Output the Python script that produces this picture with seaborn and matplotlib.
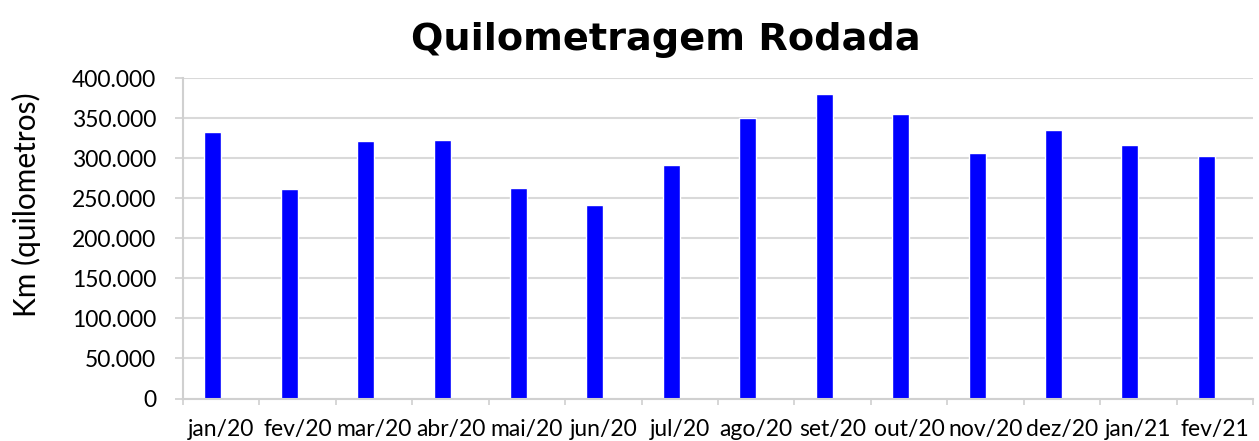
import matplotlib
matplotlib.use("Agg")
import matplotlib.pyplot as plt
from matplotlib.ticker import FuncFormatter, FixedLocator
import seaborn as sns
import pandas as pd

# ---- data ----
meses = ["jan/20", "fev/20", "mar/20", "abr/20", "mai/20", "jun/20", "jul/20",
         "ago/20", "set/20", "out/20", "nov/20", "dez/20", "jan/21", "fev/21"]
km = [333100, 261200, 321100, 322700, 262400, 240900, 291100,
      350600, 380100, 355600, 307000, 335300, 316100, 302400]
serie = "Km"
yticks = [0, 50000, 100000, 150000, 200000, 250000, 300000, 350000, 400000]
titulo = "Quilometragem Rodada"
rotulo_y = "Km (quilometros)"

sns.set_theme(style="white")
plt.rcParams["font.family"] = ["Lato", "DejaVu Sans"]

df = pd.DataFrame({"mes": meses, "km": km, "serie": serie})

W, H = 1259, 441
fig = plt.figure(figsize=(W / 100, H / 100), dpi=100)
ax = fig.add_axes([183 / W, 1 - 398.5 / H, (1253 - 183) / W, (398.5 - 78) / H])

sns.barplot(data=df, x="mes", y="km", hue="serie", hue_order=[serie, "_vazio"],
            palette=["#0000ff", "#0000ff"], width=0.444, dodge=True,
            legend=False, ax=ax, saturation=1, errorbar=None)

ax.set_xlim(-0.5, len(meses) - 0.5)
ax.set_ylim(yticks[0], yticks[-1])
ax.set_yticks(yticks)
ax.yaxis.set_major_formatter(FuncFormatter(lambda v, p: f"{int(v):,}".replace(",", ".")))
ax.yaxis.grid(True, color="#d9d9d9", linewidth=1.5)
ax.set_axisbelow(True)
ax.set_xlabel("")
ax.set_ylabel("")

for s in ["top", "right"]:
    ax.spines[s].set_visible(False)
for s in ["left", "bottom"]:
    ax.spines[s].set_color("#d0d0d0")
    ax.spines[s].set_linewidth(1.5)

ax.tick_params(axis="y", which="major", direction="out", length=5.8, width=1.2,
               color="#d0d0d0", pad=13.5, labelsize=16.5, labelcolor="black", left=True)
ax.xaxis.set_minor_locator(FixedLocator([i - 0.5 for i in range(len(meses) + 1)]))
ax.tick_params(axis="x", which="minor", direction="out", length=4.5, width=1.2,
               color="#d0d0d0", bottom=True)
ax.tick_params(axis="x", which="major", length=0, pad=14.5, labelsize=16.5,
               labelcolor="black")

fig.text(26 / W, 1 - 205 / H, rotulo_y, rotation=90, ha="center", va="center",
         fontsize=21.5, color="black")
fig.text(665.5 / W, 1 - 50 / H, titulo, ha="center", va="baseline",
         fontsize=27.5, fontweight="bold", family=["DejaVu Sans"], color="black")

fig.savefig("out.png", dpi=100)
